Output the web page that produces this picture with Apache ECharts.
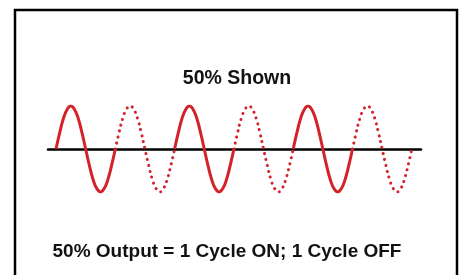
<!DOCTYPE html>
<html>
<head>
<meta charset="utf-8">
<script src="https://cdn.jsdelivr.net/npm/echarts@6/dist/echarts.min.js"></script>
<style>
  html, body { margin: 0; padding: 0; background: #fff; }
  #chart { width: 460px; height: 275px; }
</style>
</head>
<body>
<div id="chart"></div>
<script>
const cycleShape = [0, 0.38, 0.71, 0.92, 1, 0.92, 0.71, 0.38, 0, -0.38, -0.71, -0.92, -1, -0.92, -0.71, -0.38, 0];
// 1 = cycle conducted (solid), 0 = cycle skipped (dotted)
const cycleOn = [1, 0, 1, 0, 1, 0];
const titleText = "50% Shown";
const captionText = "50% Output = 1 Cycle ON; 1 Cycle OFF";

const red = "#d2232a";

// build the two series from the cycles
const onData = [];
const offData = [];
cycleOn.forEach(function (on, c) {
    const target = on ? onData : offData;
    cycleShape.forEach(function (v, k) {
        target.push([c + k / (cycleShape.length - 1), v]);
    });
    target.push([c + 1, null]);
});

const myChart = echarts.init(document.getElementById("chart"), null, { renderer: "canvas" });
const option = {
    animation: false,
    backgroundColor: "#fff",
    grid: { left: 48, right: 39, top: 106, bottom: 83 },
    xAxis: {
        type: "value",
        min: -0.135,
        max: 6.155,
        axisLine: { show: true, onZero: true, lineStyle: { color: "#000", width: 2.5 } },
        axisTick: { show: false },
        axisLabel: { show: false },
        splitLine: { show: false }
    },
    yAxis: {
        type: "value",
        min: -1,
        max: 1,
        show: false
    },
    graphic: [
        {
            type: "rect",
            z: -1,
            shape: { x: 15, y: 10, width: 442, height: 300 },
            style: { fill: "none", stroke: "#000", lineWidth: 2.5 }
        },
        {
            type: "text",
            x: 237,
            y: 79,
            style: {
                text: titleText,
                align: "center",
                verticalAlign: "middle",
                fill: "#111",
                font: "bold 19.5px 'Liberation Sans', Arial, sans-serif"
            }
        },
        {
            type: "text",
            x: 227,
            y: 251.5,
            style: {
                text: captionText,
                align: "center",
                verticalAlign: "middle",
                fill: "#111",
                font: "bold 19px 'Liberation Sans', Arial, sans-serif"
            }
        }
    ],
    series: [
        {
            name: "on",
            type: "line",
            smooth: true,
            showSymbol: false,
            connectNulls: false,
            data: onData,
            lineStyle: { color: red, width: 3 },
            z: 3
        },
        {
            name: "off",
            type: "line",
            smooth: true,
            showSymbol: false,
            connectNulls: false,
            data: offData,
            lineStyle: { color: red, width: 3, type: [0.1, 6], cap: "round" },
            z: 3
        }
    ]
};
myChart.setOption(option);
</script>
</body>
</html>
